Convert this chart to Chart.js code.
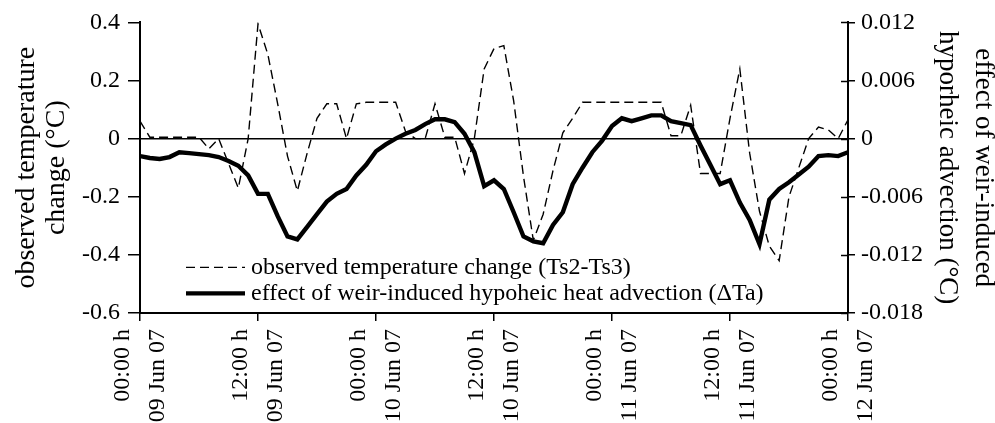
<!DOCTYPE html>
<html><head><meta charset="utf-8">
<script src="https://cdn.jsdelivr.net/npm/chart.js@4.4.1/dist/chart.umd.min.js"></script>
<style>html,body{margin:0;padding:0;background:#fff}#wrap{width:995px;height:423px}</style>
</head><body><div id="wrap"><canvas id="c" width="995" height="423"></canvas></div>
<script>
// hours since 00:00 h 09 Jun 07
const hours = Array.from({length: 73}, (_, i) => i);
const tickHours = [0, 12, 24, 36, 48, 60, 72];
const tickLabels = [
  ["00:00 h", "09 Jun 07"], ["12:00 h", "09 Jun 07"],
  ["00:00 h", "10 Jun 07"], ["12:00 h", "10 Jun 07"],
  ["00:00 h", "11 Jun 07"], ["12:00 h", "11 Jun 07"],
  ["00:00 h", "12 Jun 07"]
];
// observed temperature change (Ts2-Ts3), °C, left axis
const observedChange = [
  0.06, 0.005, 0.005, 0.005, 0.005, 0.005, 0.005, -0.035, 0.0, -0.085,
  -0.17, 0.0, 0.395, 0.29, 0.12, -0.06, -0.18, -0.05, 0.07, 0.12,
  0.12, 0.0, 0.12, 0.125, 0.125, 0.125, 0.125, 0.025, 0.0, 0.0,
  0.12, 0.005, 0.005, -0.12, 0.0, 0.24, 0.31, 0.32, 0.13, -0.13,
  -0.35, -0.26, -0.11, 0.02, 0.07, 0.125, 0.125, 0.125, 0.125, 0.125,
  0.125, 0.125, 0.125, 0.125, 0.01, 0.01, 0.115, -0.12, -0.12, -0.12,
  0.07, 0.24, -0.05, -0.25, -0.37, -0.42, -0.2, -0.1, 0.0, 0.04,
  0.03, 0.0, 0.065
];
// effect of weir-induced hyporheic heat advection (ΔTa), °C, right axis
const weirEffect = [
  -0.0018, -0.0020, -0.0021, -0.0019, -0.0014, -0.0015, -0.0016, -0.0017, -0.0019, -0.0023,
  -0.0028, -0.0038, -0.0057, -0.0057, -0.0080, -0.0101, -0.0104, -0.0091, -0.0078, -0.0065,
  -0.0057, -0.0052, -0.0038, -0.0027, -0.0013, -0.0006, 0.0000, 0.0005, 0.0009, 0.0015,
  0.0020, 0.0020, 0.0017, 0.0005, -0.0014, -0.0049, -0.0043, -0.0052, -0.0076, -0.0101,
  -0.0106, -0.0108, -0.0089, -0.0076, -0.0047, -0.0030, -0.0014, -0.0002, 0.0013, 0.0021,
  0.0018, 0.0021, 0.0024, 0.0024, 0.0018, 0.0016, 0.0014, -0.0007, -0.0027, -0.0047,
  -0.0043, -0.0066, -0.0084, -0.0109, -0.0063, -0.0052, -0.0045, -0.0037, -0.0029, -0.0018,
  -0.0017, -0.0018, -0.0014
];
const leftTitle = ["observed temperature", "change (\u00B0C)"];
const rightTitle = ["effect of weir-induced", "hyporheic advection (\u00B0C)"];
const seriesLabels = ["observed temperature change (Ts2-Ts3)", "effect of weir-induced hypoheic heat advection (\u0394Ta)"];

const FONT = "'Liberation Serif', 'Times New Roman', serif";

const legendPlugin = {
  id: 'inlineLegend',
  afterDraw(chart) {
    const ctx = chart.ctx;
    const a = chart.chartArea;
    const rows = [a.top + 245, a.top + 271];
    ctx.save();
    chart.data.datasets.forEach((ds, i) => {
      const y = rows[i];
      ctx.beginPath();
      ctx.setLineDash(ds.borderDash || []);
      ctx.lineWidth = ds.borderWidth;
      ctx.strokeStyle = ds.borderColor;
      ctx.moveTo(a.left + 46, y);
      ctx.lineTo(a.left + 105, y);
      ctx.stroke();
      ctx.setLineDash([]);
      ctx.fillStyle = '#000';
      ctx.font = "24px " + FONT;
      ctx.textBaseline = 'middle';
      ctx.textAlign = 'left';
      ctx.fillText(ds.label, a.left + 111, y);
    });
    ctx.restore();
  }
};

const innerTicks = {
  id: 'innerTicks',
  afterDraw(chart) {
    const s = chart.scales.y1;
    const ctx = chart.ctx;
    ctx.save();
    ctx.strokeStyle = '#000';
    ctx.lineWidth = 1.5;
    s.ticks.forEach(t => {
      const y = Math.round(s.getPixelForValue(t.value)) + 0.5;
      ctx.beginPath();
      ctx.moveTo(s.left - 7, y);
      ctx.lineTo(s.left, y);
      ctx.stroke();
    });
    ctx.restore();
  }
};

new Chart(document.getElementById('c'), {
  type: 'line',
  data: {
    datasets: [
      {
        label: seriesLabels[0],
        data: hours.map((h, i) => ({x: h, y: observedChange[i]})),
        yAxisID: 'y', borderColor: '#000', borderWidth: 1.4, borderDash: [9, 5],
        pointRadius: 0, tension: 0, fill: false
      },
      {
        label: seriesLabels[1],
        data: hours.map((h, i) => ({x: h, y: weirEffect[i]})),
        yAxisID: 'y1', borderColor: '#000', borderWidth: 4.4,
        pointRadius: 0, tension: 0, fill: false, borderJoinStyle: 'miter'
      }
    ]
  },
  options: {
    responsive: false, animation: false, devicePixelRatio: 1,
    layout: {padding: {top: 19, left: 0, right: 0, bottom: 0}},
    plugins: {legend: {display: false}, tooltip: {enabled: false}},
    scales: {
      x: {
        type: 'linear', min: 0, max: 72,
        afterBuildTicks: s => { s.ticks = tickHours.map(v => ({value: v})); },
        afterFit: s => { s.height = 110; },
        ticks: {
          autoSkip: false, maxRotation: 90, minRotation: 90, color: '#000', padding: 8,
          labelOffset: -17,
          font: {family: FONT, size: 24, lineHeight: 1.46},
          callback: v => tickLabels[tickHours.indexOf(v)]
        },
        grid: {drawOnChartArea: false, tickLength: 8, tickColor: '#000', lineWidth: 1.5},
        border: {color: '#000', width: 2}
      },
      y: {
        position: 'left', min: -0.6, max: 0.4,
        afterFit: s => { s.width = 140; },
        ticks: {
          stepSize: 0.2, color: '#000', padding: 8,
          font: {family: FONT, size: 24},
          callback: v => Math.abs(v) < 1e-9 ? '0' : v.toFixed(1)
        },
        grid: {
          drawOnChartArea: true, tickLength: 12, tickColor: '#000', lineWidth: 1.5,
          color: c => (c.tick && Math.abs(c.tick.value) < 1e-9) ? '#000' : 'rgba(0,0,0,0)'
        },
        border: {color: '#000', width: 2},
        title: {display: true, text: leftTitle, color: '#000', padding: {top: 12, bottom: 0},
          font: {family: FONT, size: 28, lineHeight: 1.07}}
      },
      y1: {
        position: 'right', min: -0.018, max: 0.012,
        afterFit: s => { s.width = 147; },
        ticks: {
          stepSize: 0.006, color: '#000', padding: 6,
          font: {family: FONT, size: 24},
          callback: v => Math.abs(v) < 1e-9 ? '0' : v.toFixed(3)
        },
        grid: {drawOnChartArea: false, tickLength: 7, tickColor: '#000', lineWidth: 1.5},
        border: {color: '#000', width: 2},
        title: {display: true, text: rightTitle, color: '#000', padding: {top: -6, bottom: 0},
          font: {family: FONT, size: 27, lineHeight: 1.33}}
      }
    }
  },
  plugins: [legendPlugin, innerTicks]
});
</script></body></html>
